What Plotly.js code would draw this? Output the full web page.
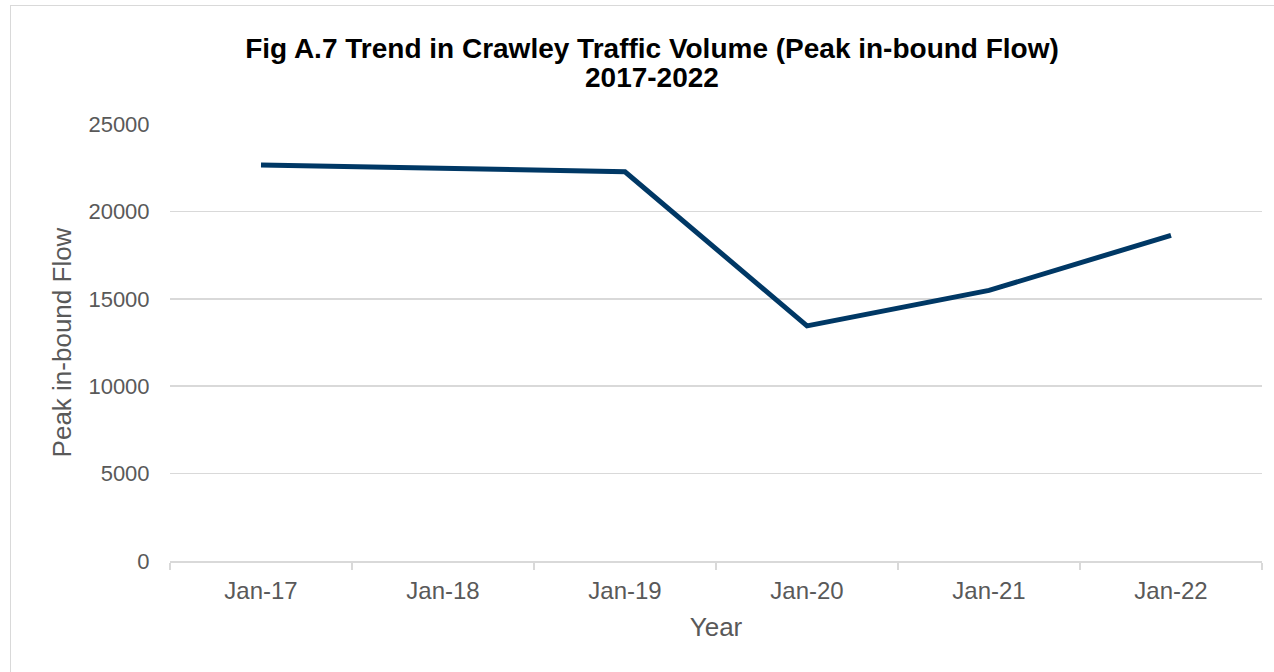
<!DOCTYPE html>
<html>
<head>
<meta charset="utf-8">
<script src="https://cdn.plot.ly/plotly-3.0.1.min.js"></script>
<style>
  html, body { margin: 0; padding: 0; background: #ffffff; }
  #wrap { position: relative; width: 1274px; height: 672px; overflow: hidden; }
  #frame { position: absolute; left: 10px; top: 5px; width: 1400px; height: 800px; border: 1px solid #d9d9d9; box-sizing: border-box; pointer-events: none; z-index: 2; }
  #chart { position: absolute; left: 0; top: 0; width: 1274px; height: 672px; }
</style>
</head>
<body>
<div id="wrap">
  <div id="chart"></div>
  <div id="frame"></div>
</div>
<script>
// Data
const years = ["Jan-17", "Jan-18", "Jan-19", "Jan-20", "Jan-21", "Jan-22"];
const peakInboundFlow = [22650, 22480, 22270, 13450, 15480, 18630];

const titleLine1 = "Fig A.7 Trend in Crawley Traffic Volume (Peak in-bound Flow)";
const titleLine2 = "2017-2022";
const xTitle = "Year";
const yTitle = "Peak in-bound Flow";

const font = "Liberation Sans, Arial, sans-serif";

const trace = {
  type: "scatter",
  mode: "lines",
  x: years,
  y: peakInboundFlow,
  line: { color: "#003865", width: 5 },
  hoverinfo: "x+y"
};

const layout = {
  width: 1274,
  height: 672,
  paper_bgcolor: "#ffffff",
  plot_bgcolor: "#ffffff",
  margin: { l: 170, r: 12, t: 124, b: 111 },
  showlegend: false,
  title: {
    text: titleLine1,
    x: 652 / 1274,
    xanchor: "center",
    xref: "container",
    y: 1 - 48 / 672,
    yref: "container",
    yanchor: "middle",
    font: { family: font, size: 28, color: "#000000", weight: "bold" }
  },
  annotations: [{
    text: titleLine2,
    xref: "paper",
    yref: "paper",
    x: (652 - 170) / 1092,
    y: 1 + (124 - 77) / 437,
    xanchor: "center",
    yanchor: "middle",
    showarrow: false,
    font: { family: font, size: 28, color: "#000000", weight: "bold" }
  }],
  xaxis: {
    type: "category",
    range: [-0.5, 5.5],
    showgrid: false,
    zeroline: false,
    showline: true,
    linecolor: "#d9d9d9",
    linewidth: 1.5,
    ticks: "outside",
    tickson: "boundaries",
    ticklen: 7,
    tickcolor: "#d9d9d9",
    tickwidth: 1.5,
    ticklabelstandoff: 8,
    tickfont: { family: font, size: 24, color: "#595959" },
    title: { text: xTitle, font: { family: font, size: 26, color: "#595959" }, standoff: 14 },
    automargin: false
  },
  yaxis: {
    range: [0, 25000],
    dtick: 5000,
    tick0: 0,
    tickformat: "d",
    showgrid: true,
    gridcolor: "#d9d9d9",
    gridwidth: 1.5,
    zeroline: false,
    showline: false,
    ticks: "outside",
    ticklen: 15,
    tickcolor: "rgba(0,0,0,0)",
    tickfont: { family: font, size: 22, color: "#595959" },
    title: { text: yTitle, font: { family: font, size: 26, color: "#595959" }, standoff: 9 },
    automargin: false
  }
};

Plotly.newPlot("chart", [trace], layout, { staticPlot: true, displayModeBar: false });
</script>
</body>
</html>
